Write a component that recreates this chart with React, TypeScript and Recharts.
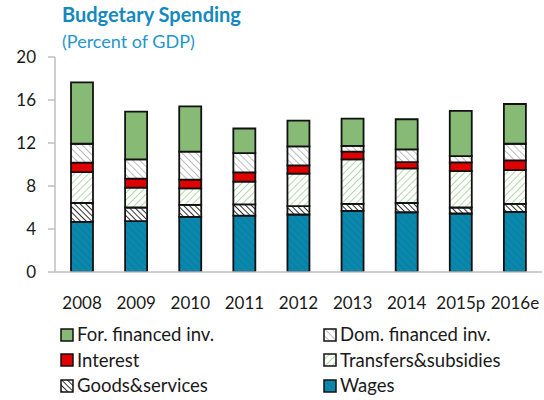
import { BarChart, Bar, XAxis, YAxis } from "recharts";

const years = ["2008", "2009", "2010", "2011", "2012", "2013", "2014", "2015p", "2016e"];
const wages = [4.66, 4.73, 5.13, 5.25, 5.35, 5.68, 5.56, 5.44, 5.59];
const goods = [1.76, 1.27, 1.11, 1.05, 0.77, 0.65, 0.86, 0.56, 0.74];
const transfers = [2.88, 1.85, 1.54, 2.11, 3.03, 4.14, 3.22, 3.39, 3.15];
const interest = [0.87, 0.83, 0.81, 0.86, 0.77, 0.72, 0.58, 0.8, 0.9];
const domInv = [1.76, 1.79, 2.6, 1.79, 1.76, 0.55, 1.18, 0.59, 1.55];
const forInv = [5.71, 4.45, 4.22, 2.29, 2.41, 2.53, 2.81, 4.2, 3.7];
const yTicks = [0, 4, 8, 12, 16, 20];

const data = years.map((year, i) => ({
  year,
  wages: wages[i],
  goods: goods[i],
  transfers: transfers[i],
  interest: interest[i],
  domInv: domInv[i],
  forInv: forInv[i],
}));

// bottom to top
const series = [
  { key: "wages", name: "Wages", fill: "url(#wagesPat)" },
  { key: "goods", name: "Goods&services", fill: "url(#goodsPat)" },
  { key: "transfers", name: "Transfers&subsidies", fill: "url(#transPat)" },
  { key: "interest", name: "Interest", fill: "#e00000" },
  { key: "domInv", name: "Dom. financed inv.", fill: "url(#domPat)" },
  { key: "forInv", name: "For. financed inv.", fill: "#87bb75" },
];

const legendOrder = ["forInv", "domInv", "interest", "transfers", "goods", "wages"];

const font = "Lato, 'Open Sans', sans-serif";
const gray = "#bfbfbf";

function Patterns() {
  const hatch = (id: string, bg: string, line: string, w: number, gap: number, angle: number) => (
    <pattern
      id={id}
      width={gap}
      height={gap}
      patternUnits="userSpaceOnUse"
      patternTransform={`rotate(${angle})`}
    >
      <rect width={gap} height={gap} fill={bg} />
      <line x1={0} y1={0} x2={0} y2={gap} stroke={line} strokeWidth={w} />
    </pattern>
  );
  return (
    <defs>
      {hatch("wagesPat", "#0a87ad", "#0a7a9c", 1.5, 5, -45)}
      {hatch("goodsPat", "#ffffff", "#333333", 2, 4, -45)}
      {hatch("transPat", "#ffffff", "#9fce8f", 1.6, 5, 45)}
      {hatch("domPat", "#ffffff", "#a6a6a6", 1.5, 5, -45)}
    </defs>
  );
}

export default function App() {
  return (
    <div style={{ position: "relative", width: 544, height: 400, fontFamily: font, background: "#fff", overflow: "hidden" }}>
      <style>{"body{margin:0;overflow:hidden}"}</style>
      <div style={{ position: "absolute", left: 62, top: 2, fontSize: 20, fontWeight: 700, color: "#1589bd", lineHeight: "24px" }}>
        Budgetary Spending
      </div>
      <div style={{ position: "absolute", left: 62, top: 30, fontSize: 18, color: "#2396cc", lineHeight: "22px" }}>
        (Percent of GDP)
      </div>
      <BarChart
        width={544}
        height={400}
        data={data}
        margin={{ top: 57, right: 2, left: 0, bottom: 88 }}
        barSize={22}
      >
        <Patterns />
        <XAxis xAxisId="sep" type="number" domain={[0, 9]} ticks={[1, 2, 3, 4, 5, 6, 7, 8]}
          height={0} mirror tick={false} axisLine={false} tickSize={7} tickLine={{ stroke: gray, strokeWidth: 1.5 }} allowDataOverflow />
        <XAxis dataKey="year" height={40} tickLine={false} tickSize={0} tickMargin={25}
          axisLine={{ stroke: gray, strokeWidth: 1.5 }} interval={0}
          tick={{ fontSize: 17, fill: "#1a1a1a", fontFamily: font }} />
        <XAxis xAxisId="top" dataKey="year" orientation="top" height={0} tick={false} tickLine={false}
          axisLine={{ stroke: gray, strokeWidth: 1.5 }} />
        <YAxis domain={[0, 20]} ticks={yTicks} width={55} tickSize={7} tickMargin={12}
          axisLine={{ stroke: gray, strokeWidth: 1.5 }} tickLine={{ stroke: gray, strokeWidth: 1.5 }}
          tick={{ fontSize: 17, fill: "#1a1a1a", fontFamily: font }} allowDataOverflow />
        <YAxis yAxisId="right" orientation="right" domain={[0, 20]} width={0} tick={false} tickLine={false}
          axisLine={{ stroke: gray, strokeWidth: 1.5 }} />
        {series.map((s) => (
          <Bar key={s.key} dataKey={s.key} name={s.name} stackId="a" fill={s.fill}
            stroke="#111" strokeWidth={1.8} isAnimationActive={false} />
        ))}
      </BarChart>
      <div style={{
        position: "absolute", left: 60, top: 322, display: "grid",
        gridTemplateColumns: "263px 220px", rowGap: 0, fontSize: 18.5, color: "#1a1a1a", lineHeight: "25.5px",
      }}>
        {legendOrder.map((k) => {
          const s = series.find((x) => x.key === k)!;
          return (
            <div key={k} style={{ display: "flex", alignItems: "center", height: 25.5 }}>
              <svg width={14} height={14} style={{ marginRight: 3, display: "block" }}>
                <rect x={1} y={1} width={12} height={12} fill={s.fill} stroke="#111" strokeWidth={1.5} />
              </svg>
              <span>{s.name}</span>
            </div>
          );
        })}
      </div>
    </div>
  );
}
